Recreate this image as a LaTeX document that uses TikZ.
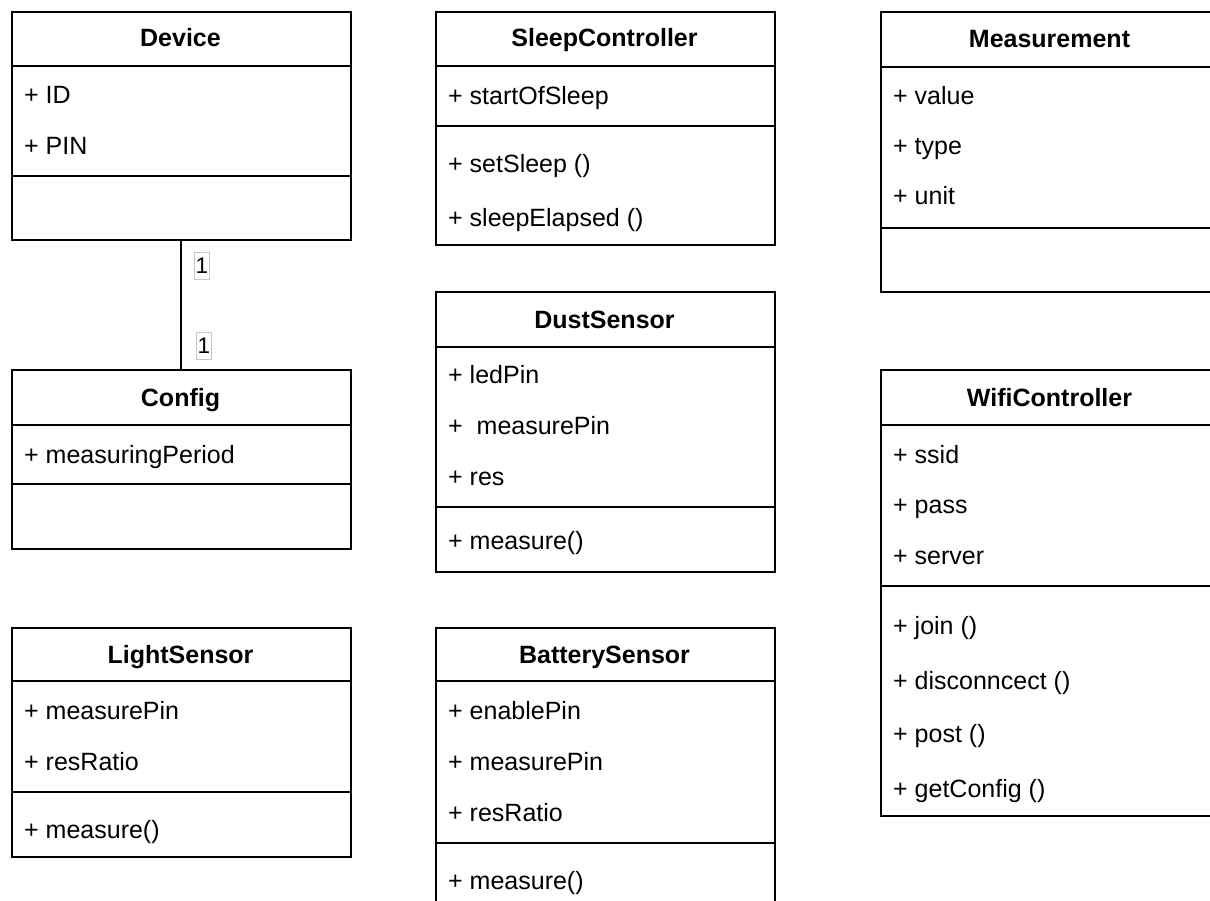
\documentclass[tikz,border=0pt]{standalone}
\usepackage{fontspec}
\setmainfont{Liberation Sans}
\usetikzlibrary{positioning}
\definecolor{labelgray}{rgb}{0.78, 0.78, 0.78}

\tikzset{
	classbox/.style={draw, line width=1.7pt, anchor=north west, minimum width=339pt, inner sep=0pt},
	classname/.style={anchor=base, font=\bfseries\fontsize{25}{30}\selectfont, inner sep=0pt},
	member/.style={anchor=base west, font=\fontsize{25}{30}\selectfont, inner sep=0pt},
	mult/.style={draw=labelgray, line width=0.7pt, font=\fontsize{22.5}{26}\selectfont, inner sep=1pt, minimum width=14pt, minimum height=27pt},
	sep/.style={line width=1.7pt}
}

\begin{document}
\begin{tikzpicture}[x=1pt, y=-1pt]
		\useasboundingbox (0,0) rectangle (1210,901);
		\clip (0,0) rectangle (1210,901);
		% left column
		\node[classbox, minimum height=228pt] (device) at (11,11) {};
		\node[classname] (device-name) at (180.5,47) {Device};
		\foreach \y in {66,176}{
			\draw[sep] (device.west |- 0,\y) -- (device.east |- 0,\y);
		}
		\foreach \y/\t in {104/{+ ID}, 155/{+ PIN}}{
			\node[member] (device-\y) at (24,\y) {\t};
		}
		%
		\node[classbox, minimum height=179pt] (config) at (11,369) {};
		\node[classname] (config-name) at (180.5,406) {Config};
		\foreach \y in {425,484}{
			\draw[sep] (config.west |- 0,\y) -- (config.east |- 0,\y);
		}
		\node[member] (config-463) at (24,463) {+ measuringPeriod};
		%
		\node[classbox, minimum height=229pt] (light) at (11,627) {};
		\node[classname] (light-name) at (180.5,663) {LightSensor};
		\foreach \y in {681,792}{
			\draw[sep] (light.west |- 0,\y) -- (light.east |- 0,\y);
		}
		\foreach \y/\t in {719/{+ measurePin}, 770/{+ resRatio}, 838/{+ measure()}}{
			\node[member] (light-\y) at (24,\y) {\t};
		}
		% middle column
		\node[classbox, minimum height=233pt] (sleep) at (435,11) {};
		\node[classname] (sleep-name) at (604.5,47) {SleepController};
		\foreach \y in {66,126}{
			\draw[sep] (sleep.west |- 0,\y) -- (sleep.east |- 0,\y);
		}
		\foreach \y/\t in {105/{+ startOfSleep}, 173/{+ setSleep ()}, 227/{+ sleepElapsed ()}}{
			\node[member] (sleep-\y) at (448,\y) {\t};
		}
		%
		\node[classbox, minimum height=280pt] (dust) at (435,291) {};
		\node[classname] (dust-name) at (604.5,328) {DustSensor};
		\foreach \y in {347,507}{
			\draw[sep] (dust.west |- 0,\y) -- (dust.east |- 0,\y);
		}
		\foreach \y/\t in {383/{+ ledPin}, 434/{+ \ measurePin}, 485/{+ res}, 549/{+ measure()}}{
			\node[member] (dust-\y) at (448,\y) {\t};
		}
		%
		\node[classbox, minimum height=280pt] (battery) at (435,627) {};
		\node[classname] (battery-name) at (604.5,663) {BatterySensor};
		\foreach \y in {681,843}{
			\draw[sep] (battery.west |- 0,\y) -- (battery.east |- 0,\y);
		}
		\foreach \y/\t in {719/{+ enablePin}, 770/{+ measurePin}, 821/{+ resRatio}, 889/{+ measure()}}{
			\node[member] (battery-\y) at (448,\y) {\t};
		}
		% right column
		\node[classbox, minimum height=280pt] (measurement) at (880,11) {};
		\node[classname] (measurement-name) at (1049.5,48) {Measurement};
		\foreach \y in {67,228}{
			\draw[sep] (measurement.west |- 0,\y) -- (measurement.east |- 0,\y);
		}
		\foreach \y/\t in {105/{+ value}, 155/{+ type}, 205/{+ unit}}{
			\node[member] (measurement-\y) at (893,\y) {\t};
		}
		%
		\node[classbox, minimum height=446pt] (wifi) at (880,369) {};
		\node[classname] (wifi-name) at (1049.5,406) {WifiController};
		\foreach \y in {425,586}{
			\draw[sep] (wifi.west |- 0,\y) -- (wifi.east |- 0,\y);
		}
		\foreach \y/\t in {463/{+ ssid}, 513/{+ pass}, 564/{+ server}, 634/{+ join ()}, 689/{+ disconncect ()}, 742/{+ post ()}, 797/{+ getConfig ()}}{
			\node[member] (wifi-\y) at (893,\y) {\t};
		}
		% association
		\draw[sep, line width=2pt] (device.south) -- (config.north);
		\node[mult] (device-mult) at (202,265.5) {1};
		\node[mult] (config-mult) at (204,346) {1};
	\end{tikzpicture}
\end{document}
